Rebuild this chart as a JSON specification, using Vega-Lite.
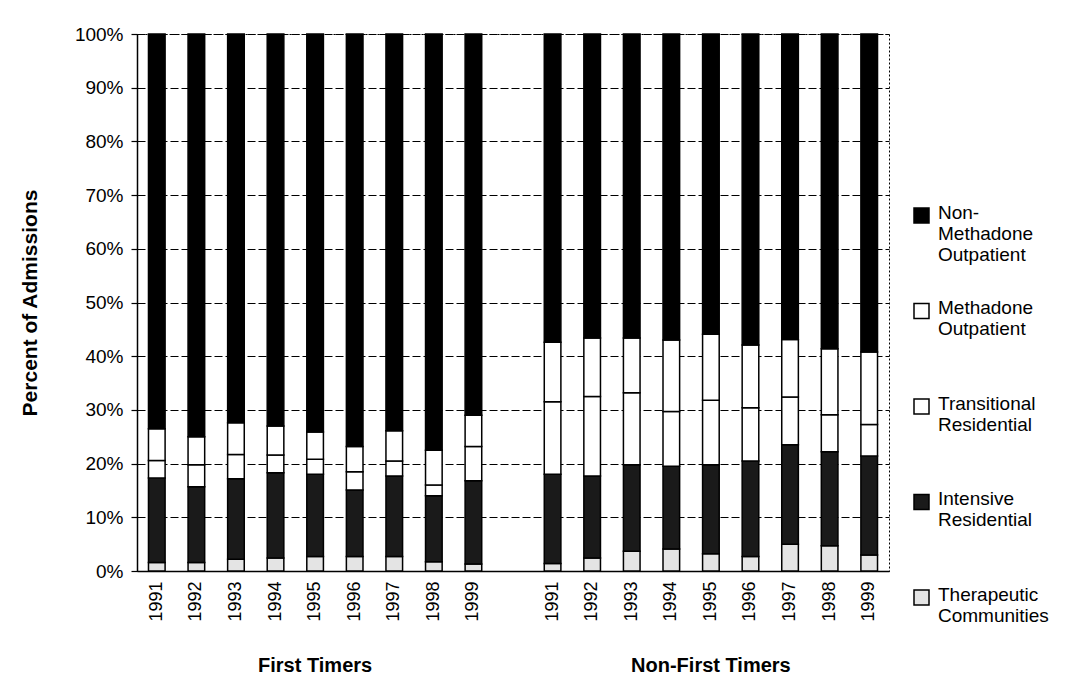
{
  "$schema": "https://vega.github.io/schema/vega-lite/v6.json",
  "autosize": "none",
  "width": 752,
  "height": 537,
  "padding": {"left": 137, "top": 34, "right": 179, "bottom": 118},
  "background": "white",
  "data": {
    "values": [
      {"bar": "First Timers|1991", "treatment": "Therapeutic Communities", "pct": 1.6},
      {"bar": "First Timers|1991", "treatment": "Intensive Residential", "pct": 15.7},
      {"bar": "First Timers|1991", "treatment": "Transitional Residential", "pct": 3.3},
      {"bar": "First Timers|1991", "treatment": "Methadone Outpatient", "pct": 5.9},
      {"bar": "First Timers|1991", "treatment": "Non-Methadone Outpatient", "pct": 73.5},
      {"bar": "First Timers|1992", "treatment": "Therapeutic Communities", "pct": 1.6},
      {"bar": "First Timers|1992", "treatment": "Intensive Residential", "pct": 14.1},
      {"bar": "First Timers|1992", "treatment": "Transitional Residential", "pct": 4.1},
      {"bar": "First Timers|1992", "treatment": "Methadone Outpatient", "pct": 5.2},
      {"bar": "First Timers|1992", "treatment": "Non-Methadone Outpatient", "pct": 75.0},
      {"bar": "First Timers|1993", "treatment": "Therapeutic Communities", "pct": 2.2},
      {"bar": "First Timers|1993", "treatment": "Intensive Residential", "pct": 15.0},
      {"bar": "First Timers|1993", "treatment": "Transitional Residential", "pct": 4.5},
      {"bar": "First Timers|1993", "treatment": "Methadone Outpatient", "pct": 5.9},
      {"bar": "First Timers|1993", "treatment": "Non-Methadone Outpatient", "pct": 72.4},
      {"bar": "First Timers|1994", "treatment": "Therapeutic Communities", "pct": 2.4},
      {"bar": "First Timers|1994", "treatment": "Intensive Residential", "pct": 15.9},
      {"bar": "First Timers|1994", "treatment": "Transitional Residential", "pct": 3.3},
      {"bar": "First Timers|1994", "treatment": "Methadone Outpatient", "pct": 5.4},
      {"bar": "First Timers|1994", "treatment": "Non-Methadone Outpatient", "pct": 73.0},
      {"bar": "First Timers|1995", "treatment": "Therapeutic Communities", "pct": 2.7},
      {"bar": "First Timers|1995", "treatment": "Intensive Residential", "pct": 15.3},
      {"bar": "First Timers|1995", "treatment": "Transitional Residential", "pct": 2.8},
      {"bar": "First Timers|1995", "treatment": "Methadone Outpatient", "pct": 5.1},
      {"bar": "First Timers|1995", "treatment": "Non-Methadone Outpatient", "pct": 74.1},
      {"bar": "First Timers|1996", "treatment": "Therapeutic Communities", "pct": 2.7},
      {"bar": "First Timers|1996", "treatment": "Intensive Residential", "pct": 12.4},
      {"bar": "First Timers|1996", "treatment": "Transitional Residential", "pct": 3.4},
      {"bar": "First Timers|1996", "treatment": "Methadone Outpatient", "pct": 4.7},
      {"bar": "First Timers|1996", "treatment": "Non-Methadone Outpatient", "pct": 76.8},
      {"bar": "First Timers|1997", "treatment": "Therapeutic Communities", "pct": 2.7},
      {"bar": "First Timers|1997", "treatment": "Intensive Residential", "pct": 15.0},
      {"bar": "First Timers|1997", "treatment": "Transitional Residential", "pct": 2.8},
      {"bar": "First Timers|1997", "treatment": "Methadone Outpatient", "pct": 5.6},
      {"bar": "First Timers|1997", "treatment": "Non-Methadone Outpatient", "pct": 73.9},
      {"bar": "First Timers|1998", "treatment": "Therapeutic Communities", "pct": 1.7},
      {"bar": "First Timers|1998", "treatment": "Intensive Residential", "pct": 12.3},
      {"bar": "First Timers|1998", "treatment": "Transitional Residential", "pct": 2.0},
      {"bar": "First Timers|1998", "treatment": "Methadone Outpatient", "pct": 6.5},
      {"bar": "First Timers|1998", "treatment": "Non-Methadone Outpatient", "pct": 77.5},
      {"bar": "First Timers|1999", "treatment": "Therapeutic Communities", "pct": 1.3},
      {"bar": "First Timers|1999", "treatment": "Intensive Residential", "pct": 15.5},
      {"bar": "First Timers|1999", "treatment": "Transitional Residential", "pct": 6.4},
      {"bar": "First Timers|1999", "treatment": "Methadone Outpatient", "pct": 5.8},
      {"bar": "First Timers|1999", "treatment": "Non-Methadone Outpatient", "pct": 71.0},
      {"bar": "Non-First Timers|1991", "treatment": "Therapeutic Communities", "pct": 1.4},
      {"bar": "Non-First Timers|1991", "treatment": "Intensive Residential", "pct": 16.6},
      {"bar": "Non-First Timers|1991", "treatment": "Transitional Residential", "pct": 13.5},
      {"bar": "Non-First Timers|1991", "treatment": "Methadone Outpatient", "pct": 11.1},
      {"bar": "Non-First Timers|1991", "treatment": "Non-Methadone Outpatient", "pct": 57.4},
      {"bar": "Non-First Timers|1992", "treatment": "Therapeutic Communities", "pct": 2.4},
      {"bar": "Non-First Timers|1992", "treatment": "Intensive Residential", "pct": 15.3},
      {"bar": "Non-First Timers|1992", "treatment": "Transitional Residential", "pct": 14.8},
      {"bar": "Non-First Timers|1992", "treatment": "Methadone Outpatient", "pct": 10.9},
      {"bar": "Non-First Timers|1992", "treatment": "Non-Methadone Outpatient", "pct": 56.6},
      {"bar": "Non-First Timers|1993", "treatment": "Therapeutic Communities", "pct": 3.7},
      {"bar": "Non-First Timers|1993", "treatment": "Intensive Residential", "pct": 16.1},
      {"bar": "Non-First Timers|1993", "treatment": "Transitional Residential", "pct": 13.4},
      {"bar": "Non-First Timers|1993", "treatment": "Methadone Outpatient", "pct": 10.2},
      {"bar": "Non-First Timers|1993", "treatment": "Non-Methadone Outpatient", "pct": 56.6},
      {"bar": "Non-First Timers|1994", "treatment": "Therapeutic Communities", "pct": 4.1},
      {"bar": "Non-First Timers|1994", "treatment": "Intensive Residential", "pct": 15.4},
      {"bar": "Non-First Timers|1994", "treatment": "Transitional Residential", "pct": 10.2},
      {"bar": "Non-First Timers|1994", "treatment": "Methadone Outpatient", "pct": 13.3},
      {"bar": "Non-First Timers|1994", "treatment": "Non-Methadone Outpatient", "pct": 57.0},
      {"bar": "Non-First Timers|1995", "treatment": "Therapeutic Communities", "pct": 3.2},
      {"bar": "Non-First Timers|1995", "treatment": "Intensive Residential", "pct": 16.6},
      {"bar": "Non-First Timers|1995", "treatment": "Transitional Residential", "pct": 12.0},
      {"bar": "Non-First Timers|1995", "treatment": "Methadone Outpatient", "pct": 12.3},
      {"bar": "Non-First Timers|1995", "treatment": "Non-Methadone Outpatient", "pct": 55.9},
      {"bar": "Non-First Timers|1996", "treatment": "Therapeutic Communities", "pct": 2.7},
      {"bar": "Non-First Timers|1996", "treatment": "Intensive Residential", "pct": 17.8},
      {"bar": "Non-First Timers|1996", "treatment": "Transitional Residential", "pct": 9.9},
      {"bar": "Non-First Timers|1996", "treatment": "Methadone Outpatient", "pct": 11.7},
      {"bar": "Non-First Timers|1996", "treatment": "Non-Methadone Outpatient", "pct": 57.9},
      {"bar": "Non-First Timers|1997", "treatment": "Therapeutic Communities", "pct": 5.0},
      {"bar": "Non-First Timers|1997", "treatment": "Intensive Residential", "pct": 18.5},
      {"bar": "Non-First Timers|1997", "treatment": "Transitional Residential", "pct": 8.9},
      {"bar": "Non-First Timers|1997", "treatment": "Methadone Outpatient", "pct": 10.7},
      {"bar": "Non-First Timers|1997", "treatment": "Non-Methadone Outpatient", "pct": 56.9},
      {"bar": "Non-First Timers|1998", "treatment": "Therapeutic Communities", "pct": 4.7},
      {"bar": "Non-First Timers|1998", "treatment": "Intensive Residential", "pct": 17.5},
      {"bar": "Non-First Timers|1998", "treatment": "Transitional Residential", "pct": 6.9},
      {"bar": "Non-First Timers|1998", "treatment": "Methadone Outpatient", "pct": 12.3},
      {"bar": "Non-First Timers|1998", "treatment": "Non-Methadone Outpatient", "pct": 58.6},
      {"bar": "Non-First Timers|1999", "treatment": "Therapeutic Communities", "pct": 3.0},
      {"bar": "Non-First Timers|1999", "treatment": "Intensive Residential", "pct": 18.4},
      {"bar": "Non-First Timers|1999", "treatment": "Transitional Residential", "pct": 5.9},
      {"bar": "Non-First Timers|1999", "treatment": "Methadone Outpatient", "pct": 13.5},
      {"bar": "Non-First Timers|1999", "treatment": "Non-Methadone Outpatient", "pct": 59.2}
    ]
  },
  "transform": [
    {"calculate": "indexof(['Therapeutic Communities','Intensive Residential','Transitional Residential','Methadone Outpatient','Non-Methadone Outpatient'], datum.treatment)", "as": "stackOrder"}
  ],
  "layer": [
    {
      "mark": {"type": "bar", "stroke": "black", "strokeWidth": 1.5},
      "encoding": {
        "x": {
          "field": "bar",
          "type": "nominal",
          "scale": {
            "domain": ["First Timers|1991","First Timers|1992","First Timers|1993","First Timers|1994","First Timers|1995","First Timers|1996","First Timers|1997","First Timers|1998","First Timers|1999","gap","Non-First Timers|1991","Non-First Timers|1992","Non-First Timers|1993","Non-First Timers|1994","Non-First Timers|1995","Non-First Timers|1996","Non-First Timers|1997","Non-First Timers|1998","Non-First Timers|1999"],
            "paddingInner": 0.58,
            "paddingOuter": 0.29
          },
          "axis": {
            "orient": "bottom",
            "title": null,
            "labelExpr": "indexof(datum.value, '|') >= 0 ? split(datum.value, '|')[1] : ''",
            "labelAngle": -90,
            "labelFontSize": 18,
            "labelColor": "black",
            "labelPadding": 10,
            "ticks": false,
            "grid": false,
            "domainColor": "black",
            "domainWidth": 1.5
          }
        },
        "y": {
          "field": "pct",
          "type": "quantitative",
          "stack": "normalize",
          "scale": {"domain": [0, 1]},
          "axis": {
            "title": "Percent of Admissions",
            "titleFontSize": 21,
            "titleFontWeight": "bold",
            "titleColor": "black",
            "titlePadding": 34,
            "values": [0, 0.1, 0.2, 0.3, 0.4, 0.5, 0.6, 0.7, 0.8, 0.9, 1],
            "format": ".0%",
            "labelFontSize": 19,
            "labelColor": "black",
            "labelPadding": 8,
            "tickColor": "black",
            "tickSize": 6,
            "tickWidth": 1.2,
            "domainColor": "black",
            "domainWidth": 1.5,
            "grid": true,
            "gridColor": "black",
            "gridDash": [8, 3],
            "gridWidth": 1.2
          }
        },
        "color": {
          "field": "treatment",
          "type": "nominal",
          "scale": {
            "domain": ["Non-Methadone Outpatient", "Methadone Outpatient", "Transitional Residential", "Intensive Residential", "Therapeutic Communities"],
            "range": ["#000000", "#ffffff", "#ffffff", "#1a1a1a", "#e4e4e4"]
          },
          "legend": {
            "orient": "none",
            "legendX": 775,
            "legendY": 172,
            "title": null,
            "padding": 0,
            "symbolType": "square",
            "symbolSize": 225,
            "symbolStrokeColor": "black",
            "symbolStrokeWidth": 1.5,
            "symbolOpacity": 1,
            "labelFontSize": 19,
            "labelColor": "black",
            "labelBaseline": "line-top",
            "labelLineHeight": 26,
            "labelOffset": 7,
            "labelLimit": 200,
            "rowPadding": 33.5,
            "gridAlign": "all",
            "labelExpr": "datum.label == 'Non-Methadone Outpatient' ? ['Non-', 'Methadone', 'Outpatient'] : split(datum.label, ' ')",
            "encode": {"labels": {"update": {"dy": {"value": -13}}}}
          }
        },
        "order": {"field": "stackOrder", "sort": "ascending"}
      }
    },
    {
      "mark": {"type": "bar", "opacity": 0},
      "encoding": {
        "x": {
          "field": "bar",
          "type": "nominal",
          "scale": {
            "domain": ["First Timers|1991","First Timers|1992","First Timers|1993","First Timers|1994","First Timers|1995","First Timers|1996","First Timers|1997","First Timers|1998","First Timers|1999","gap","Non-First Timers|1991","Non-First Timers|1992","Non-First Timers|1993","Non-First Timers|1994","Non-First Timers|1995","Non-First Timers|1996","Non-First Timers|1997","Non-First Timers|1998","Non-First Timers|1999"],
            "paddingInner": 0.58,
            "paddingOuter": 0.29
          },
          "axis": {
            "orient": "bottom",
            "title": null,
            "labelExpr": "datum.value == 'First Timers|1995' ? 'First Timers' : (datum.value == 'Non-First Timers|1995' ? 'Non-First Timers' : '')",
            "labelAngle": 0,
            "labelAlign": "center",
            "labelBaseline": "top",
            "labelFontSize": 20,
            "labelFontWeight": "bold",
            "labelColor": "black",
            "labelPadding": 84,
            "labelOverlap": false,
            "labelBound": false,
            "labelFlush": false,
            "labelLimit": 300,
            "ticks": false,
            "domain": false,
            "grid": false
          }
        },
        "y": {"field": "pct", "type": "quantitative", "stack": "normalize"}
      }
    }
  ],
  "resolve": {"scale": {"x": "independent"}},
  "config": {
    "font": "Liberation Sans",
    "view": {"stroke": "black", "strokeDash": [2, 2], "strokeWidth": 1}
  }
}
